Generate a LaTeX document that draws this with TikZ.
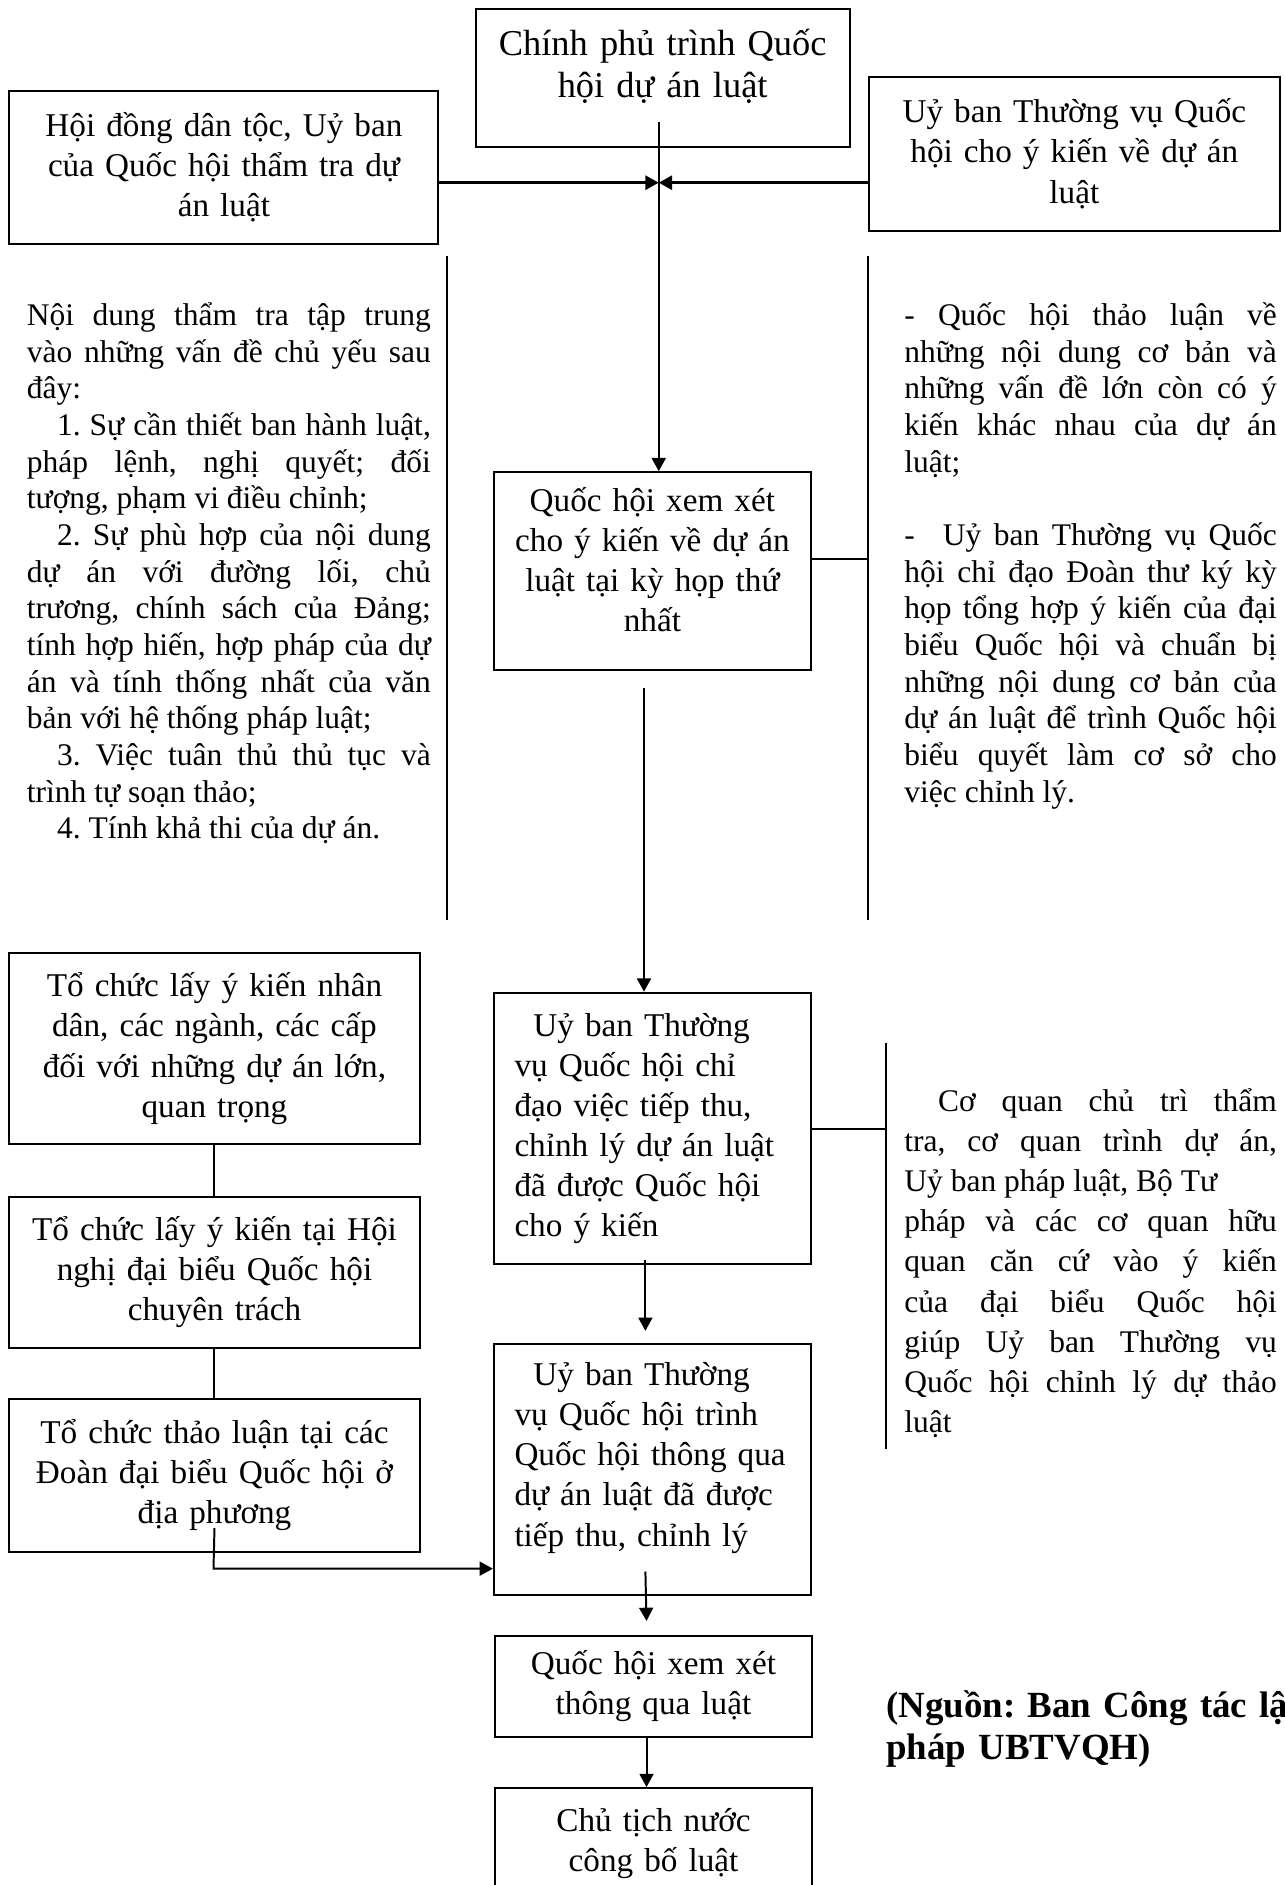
\documentclass[tikz,border=0pt]{standalone}
\usepackage{fontspec}
\setmainfont{Liberation Serif}
\usetikzlibrary{arrows.meta}
\tikzstyle{box} = [draw, rectangle, line width=0.8pt, inner sep=0pt, anchor=north west, align=center, font=\fontsize{13.5pt}{16.3pt}\selectfont]
\tikzstyle{note} = [inner sep=0pt, anchor=base west, align=justify, font=\fontsize{12.8pt}{14.9pt}\selectfont]
\tikzstyle{arr} = [line width=0.8pt, -{Triangle[length=0.19cm, width=0.2cm]}]
\tikzstyle{bar} = [line width=0.8pt]
\newcommand{\padbelow}[1]{\rule[-#1]{0pt}{#1}}

\begin{document}
\frenchspacing
\begin{tikzpicture}
	\useasboundingbox (0,0) rectangle (18.357,-26.929);

	% top row
	\node[box, minimum width=5.34cm, minimum height=1.96cm, text width=5.2cm, font=\fontsize{14.8pt}{17.1pt}\selectfont] (gov) at (6.783,-0.12) {Chính phủ trình Quốc\\hội dự án luật\padbelow{0.41cm}};
	\node[box, minimum width=6.13cm, minimum height=2.18cm, text width=6cm] (council) at (0.12,-1.288) {Hội đồng dân tộc, Uỷ ban\\của Quốc hội thẩm tra dự\\án luật};
	\node[box, minimum width=5.87cm, minimum height=2.2cm, text width=5.7cm] (standing) at (12.399,-1.082) {Uỷ ban Thường vụ Quốc\\hội cho ý kiến về dự án\\luật};

	% middle column
	\node[box, minimum width=4.53cm, minimum height=2.83cm, text width=4.4cm] (first) at (7.041,-6.732) {Quốc hội xem xét\\cho ý kiến về dự án\\luật tại kỳ họp thứ\\nhất\padbelow{0.33cm}};
	\node[box, minimum width=4.53cm, minimum height=3.88cm, text width=4.3cm, align=left] (revise) at (7.041,-14.168) {\leftskip=0.18cm\hspace*{0.27cm}Uỷ ban Thường\\vụ Quốc hội chỉ\\đạo việc tiếp thu,\\chỉnh lý dự án luật\\đã được Quốc hội\\cho ý kiến\par};
	\node[box, minimum width=4.53cm, minimum height=3.59cm, text width=4.3cm, align=left] (submit) at (7.041,-19.182) {\leftskip=0.18cm\hspace*{0.27cm}Uỷ ban Thường\\vụ Quốc hội trình\\Quốc hội thông qua\\dự án luật đã được\\tiếp thu, chỉnh lý\padbelow{0.43cm}\par};
	\node[box, minimum width=4.53cm, minimum height=1.44cm, text width=4.4cm] (pass) at (7.057,-23.357) {Quốc hội xem xét\\thông qua luật};
	\node[box, minimum width=4.53cm, minimum height=1.58cm, text width=4.4cm] (promulgate) at (7.057,-25.53) {Chủ tịch nước\\công bố luật};

	% left column
	\node[box, minimum width=5.86cm, minimum height=2.73cm, text width=5.7cm] (people) at (0.12,-13.601) {Tổ chức lấy ý kiến nhân\\dân, các ngành, các cấp\\đối với những dự án lớn,\\quan trọng};
	\node[box, minimum width=5.86cm, minimum height=2.15cm, text width=5.7cm] (deputies) at (0.12,-17.087) {Tổ chức lấy ý kiến tại Hội\\nghị đại biểu Quốc hội\\chuyên trách};
	\node[box, minimum width=5.86cm, minimum height=2.18cm, text width=5.7cm] (delegations) at (0.12,-19.972) {Tổ chức thảo luận tại các\\Đoàn đại biểu Quốc hội ở\\địa phương};

	% side notes
	\node[note, text width=5.77cm] (examine) at (0.378,-4.65) {Nội dung thẩm tra tập trung\linebreak vào những vấn đề chủ yếu sau\linebreak đây:\par
		\hspace*{0.43cm}1. Sự cần thiết ban hành luật,\linebreak pháp lệnh, nghị quyết; đối\linebreak tượng, phạm vi điều chỉnh;\par
		\hspace*{0.43cm}2. Sự phù hợp của nội dung\linebreak dự án với đường lối, chủ\linebreak trương, chính sách của Đảng;\linebreak tính hợp hiến, hợp pháp của dự\linebreak án và tính thống nhất của văn\linebreak bản với hệ thống pháp luật;\par
		\hspace*{0.43cm}3. Việc tuân thủ thủ tục và\linebreak trình tự soạn thảo;\par
		\hspace*{0.43cm}4. Tính khả thi của dự án.};
	\node[note, text width=5.32cm] (debate) at (12.914,-4.65) {- Quốc hội thảo luận về\linebreak những nội dung cơ bản và\linebreak những vấn đề lớn còn có ý\linebreak kiến khác nhau của dự án\linebreak luật;\par
		\vspace{14.9pt}
		-\hspace{0.4cm}Uỷ ban Thường vụ Quốc\linebreak hội chỉ đạo Đoàn thư ký kỳ\linebreak họp tổng hợp ý kiến của đại\linebreak biểu Quốc hội và chuẩn bị\linebreak những nội dung cơ bản của\linebreak dự án luật để trình Quốc hội\linebreak biểu quyết làm cơ sở cho\linebreak việc chỉnh lý.};
	\node[note, text width=5.32cm, font=\fontsize{12.8pt}{16.3pt}\selectfont] (agencies) at (12.914,-15.88) {\hspace*{0.48cm}Cơ quan chủ trì thẩm\linebreak tra, cơ quan trình dự án,\linebreak Uỷ ban pháp luật, Bộ Tư\newline pháp và các cơ quan hữu\linebreak quan căn cứ vào ý kiến\linebreak của đại biểu Quốc hội\linebreak giúp Uỷ ban Thường vụ\linebreak Quốc hội chỉnh lý dự thảo\linebreak luật};
	\node[note, text width=8cm, align=left, font=\bfseries\fontsize{15pt}{17.1pt}\selectfont] (source) at (12.656,-24.53) {(Nguồn: Ban Công tác lập\\pháp UBTVQH)};

	% bars beside the notes
	\coordinate (lbartop) at (6.388,-3.658);
	\coordinate (lbarbot) at (6.388,-13.137);
	\coordinate (rbartop) at (12.399,-3.658);
	\coordinate (rbarbot) at (12.399,-13.137);
	\coordinate (sbartop) at (12.656,-14.906);
	\coordinate (sbarbot) at (12.656,-20.693);
	\draw[bar] (lbartop) -- (lbarbot);
	\draw[bar] (rbartop) -- (rbarbot);
	\draw[bar] (sbartop) -- (sbarbot);
	\draw[bar] ([yshift=0.18cm]first.east) -- ([yshift=0.18cm]first.east -| rbartop);
	\draw[bar] (revise.east) -- (revise.east -| sbartop);

	% arrows
	\coordinate (govout) at (9.411,-1.75);
	\coordinate (join) at (9.411,-2.61);
	\draw[arr, line width=1.1pt] (council.east |- join) -- (join);
	\draw[arr, line width=1.1pt] (standing.west |- join) -- (join);
	\draw[arr] (govout) -- (govout |- first.north);
	\coordinate (firstout) at (9.2,-9.823);
	\draw[arr] (firstout) -- (firstout |- revise.north);
	\draw[arr] ([xshift=-0.1cm, yshift=0.07cm]revise.south) -- ([xshift=-0.1cm, yshift=0.17cm]submit.north);
	\draw[arr] ([xshift=-0.1cm, yshift=0.35cm]submit.south) -- ([xshift=-0.1cm, yshift=0.2cm]pass.north);
	\draw[arr] ([xshift=-0.1cm]pass.south) -- ([xshift=-0.1cm]promulgate.north);

	% left chain
	\draw[bar] (people.south) -- (deputies.north);
	\draw[bar] (deputies.south) -- (delegations.north);
	\coordinate (bend) at (3.05,-22.41);
	\draw[arr] ([yshift=0.35cm]delegations.south) -- (bend) -- (bend -| submit.west);

\end{tikzpicture}
\end{document}
